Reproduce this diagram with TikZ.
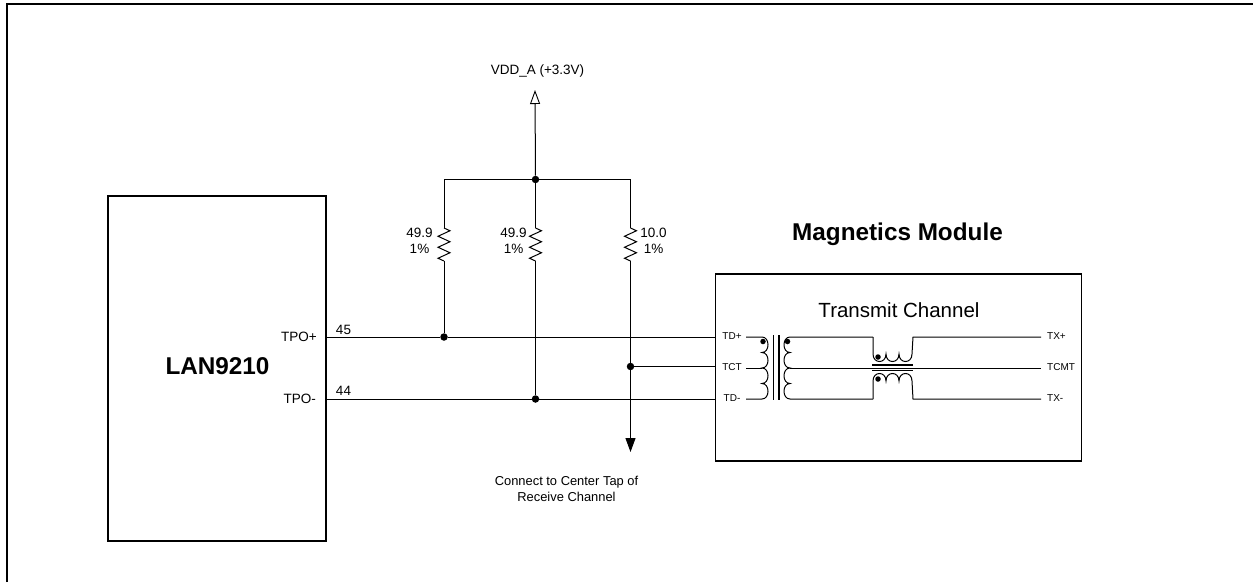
\documentclass[tikz,border=0pt]{standalone}
\usepackage{fontspec}
\setmainfont{Liberation Sans}
\usetikzlibrary{arrows.meta,decorations.pathmorphing}
\tikzset{
  chip/.style={draw,line width=1.5,inner sep=0},
  wire/.style={line width=1},
  res/.style={wire,decorate,decoration={zigzag,segment length=11,amplitude=6}},
  junction/.style={circle,fill=black,inner sep=0,minimum size=7.5},
  tinydot/.style={circle,fill=black,inner sep=0,minimum size=5.5},
  pinsmall/.style={font=\fontsize{10}{12}\selectfont,inner sep=0},
  pinbig/.style={font=\fontsize{13.5}{16}\selectfont,align=center,inner sep=0},
  head/.style={font=\fontsize{24.3}{28}\selectfont\bfseries},
}
\begin{document}
\begin{tikzpicture}[x=1pt,y=-1pt]
\useasboundingbox (0,0) rectangle (1253,582);
\draw [line width=2] (7,582) -- (7,4) -- (1253,4) ;

\node (lan) [chip,minimum width=218,minimum height=345] at (216.8,368.5) {};
\node (lanname) [head] at (217.5,366.5) {LAN9210};
\node (mag) [chip,minimum width=366,minimum height=187] at (898.5,367.5) {};
\node (magname) [head] at (897.5,234.5) {Magnetics Module};
\node (txname) [font=\fontsize{20.5}{24}\selectfont] at (899,310.5) {Transmit Channel};

\node (vddlabel) [pinbig] at (537.5,71) {VDD\_A (+3.3V)};
\node (notelabel) [pinbig,font=\fontsize{12.9}{16}\selectfont] at (566.5,488.5) {Connect to Center Tap of\\Receive Channel};
\node (tpoPlabel) [pinbig,anchor=east] at (317,337) {TPO+};
\node (tpoNlabel) [pinbig,anchor=east] at (316,399) {TPO-};
\node (num45) [pinbig] at (343.5,330) {45};
\node (num44) [pinbig] at (343.5,391) {44};
\node (r1label) [pinbig] at (419.5,241) {49.9\\1\%};
\node (r2label) [pinbig] at (513.5,241) {49.9\\1\%};
\node (r3label) [pinbig] at (653.5,241) {10.0\\1\%};
\node (tdPlabel) [pinsmall] at (732,336.5) {TD+};
\node (tctlabel) [pinsmall] at (732,367.5) {TCT};
\node (tdNlabel) [pinsmall] at (732,398.5) {TD-};
\node (txPlabel) [pinsmall,anchor=west] at (1047,336.5) {TX+};
\node (tcmtlabel) [pinsmall,anchor=west] at (1047,367.5) {TCMT};
\node (txNlabel) [pinsmall,anchor=west] at (1047,398.5) {TX-};

% rail and resistors
\coordinate (vddtip) at (535,90);
\node (railmid) [junction] at (535.5,179.5) {};
\coordinate (railL) at (444,179.5);
\coordinate (railR) at (630.5,179.5);
\coordinate (r1top) at (444,228);
\coordinate (r1bot) at (444,261);
\coordinate (r2top) at (535.5,228);
\coordinate (r2bot) at (535.5,261);
\coordinate (r3top) at (630.5,228);
\coordinate (r3bot) at (630.5,261);
\node (j1) [junction] at (444,337) {};
\node (j2) [junction] at (535.5,399) {};
\node (j3) [junction] at (630.5,366.5) {};
\coordinate (tail) at (630.5,452);
\coordinate (pinP) at (325.7,337);
\coordinate (pinN) at (325.7,399);
\coordinate (boxP) at (715.5,337);
\coordinate (boxT) at (715.5,366.5);
\coordinate (boxN) at (715.5,399);

\draw [wire,-{Triangle[open,length=14,width=10,line width=0.9]}] (railmid) -- (vddtip) ;
\draw [wire] (r1top) -- (railL) -- (railR) -- (r3top) ;
\draw [wire] (railmid) -- (r2top) ;
\draw [res] (r1top) -- (r1bot) ;
\draw [res] (r2top) -- (r2bot) ;
\draw [res] (r3top) -- (r3bot) ;
\draw [wire] (r1bot) -- (j1) ;
\draw [wire] (r2bot) -- (j2) ;
\draw [wire] (r3bot) -- (j3) ;
\draw [wire,-{Triangle[length=14,width=10]}] (j3) -- (tail) ;
\draw [wire] (pinP) -- (j1) -- (boxP) ;
\draw [wire] (pinN) -- (j2) -- (boxN) ;
\draw [wire] (j3) -- (boxT) ;

% left transformer
\coordinate (tdPin) at (746,337);
\coordinate (tctIn) at (746,368);
\coordinate (tdNin) at (746,399);
\draw [wire] (tdPin) -- (762,337) .. controls (770,337) and (770,352.5) .. (762,352.5) .. controls (770,352.5) and (770,368) .. (762,368) .. controls (770,368) and (770,383.5) .. (762,383.5) .. controls (770,383.5) and (770,399) .. (762,399) -- (tdNin) ;
\draw [wire] (tctIn) -- (762,368) ;
\draw [line width=1.2] (773.5,335) -- (773.5,400) ;
\draw [line width=1.2] (779,335) -- (779,400) ;
\draw [wire] (873,337) -- (790,337) .. controls (782,337) and (782,352.5) .. (790,352.5) .. controls (782,352.5) and (782,368) .. (790,368) .. controls (782,368) and (782,383.5) .. (790,383.5) .. controls (782,383.5) and (782,399) .. (790,399) -- (873,399) ;
\node (dotA) [tinydot] at (763,341.5) {};
\node (dotB) [tinydot] at (787.5,341.5) {};

% right choke
\coordinate (txPout) at (1041,337);
\coordinate (tcmtOut) at (1041,368);
\coordinate (txNout) at (1041,399);
\draw [wire] (873,337) -- (873,354) .. controls (873,364) and (886,364) .. (886,354) .. controls (886,364) and (899,364) .. (899,354) .. controls (899,364) and (912,364) .. (912,354) -- (913,337) -- (txPout) ;
\draw [wire] (873,399) -- (873,381) .. controls (873,371) and (886,371) .. (886,381) .. controls (886,371) and (899,371) .. (899,381) .. controls (899,371) and (912,371) .. (912,381) -- (913,399) -- (txNout) ;
\draw [wire] (790,368) -- (tcmtOut) ;
\draw [line width=1.2] (872,365) -- (913,365) ;
\draw [line width=1.2] (872,370.5) -- (913,370.5) ;
\node (dotC) [tinydot] at (878,357) {};
\node (dotD) [tinydot] at (878,379) {};
\end{tikzpicture}
\end{document}
